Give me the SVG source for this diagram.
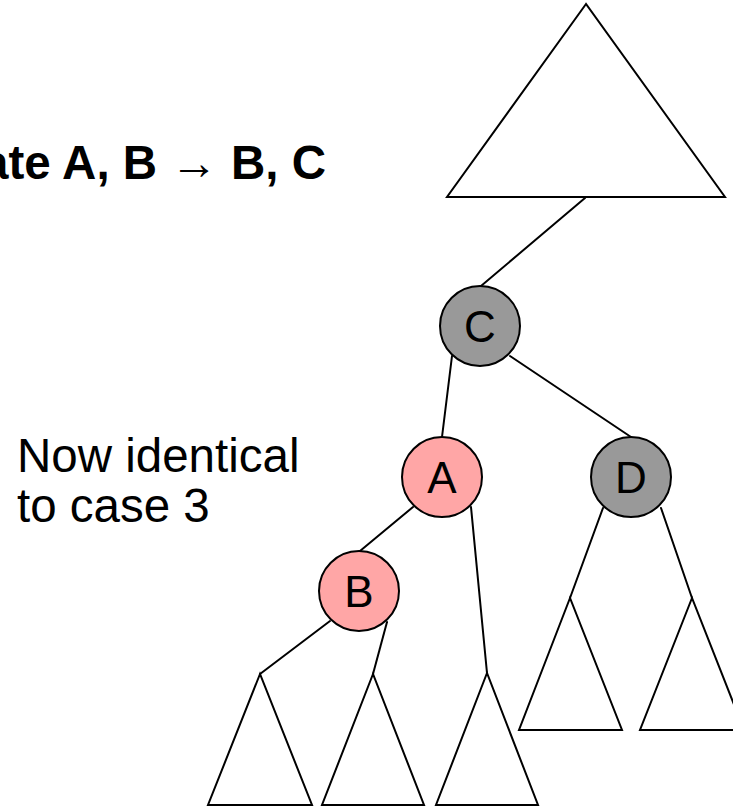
<svg xmlns="http://www.w3.org/2000/svg" width="733" height="807" viewBox="0 0 733 807">
<style>
.e{stroke:#000;stroke-width:2;fill:none;stroke-linecap:round}
.t{stroke:#000;stroke-width:2;fill:#fff;stroke-linejoin:miter}
.n{stroke:#000;stroke-width:2}
.g{fill:#999999}
.p{fill:#ffa6a6}
.lbl{font-family:"Liberation Sans",Arial,sans-serif;font-size:44px;text-anchor:middle;fill:#000}
.txt{font-family:"Liberation Sans",Arial,sans-serif;font-size:47.5px;fill:#000}
</style>
<rect width="733" height="807" fill="#fff"/>
<g id="connectors">
<line class="e" x1="585" y1="198" x2="481" y2="286"/>
<line class="e" x1="452" y1="356" x2="442" y2="437"/>
<line class="e" x1="510" y1="356" x2="631" y2="437"/>
<line class="e" x1="413" y1="507" x2="360" y2="551"/>
<line class="e" x1="471" y1="507" x2="487" y2="673"/>
<line class="e" x1="330" y1="621" x2="260" y2="674"/>
<line class="e" x1="387" y1="622" x2="373" y2="674"/>
<line class="e" x1="603" y1="508" x2="570" y2="598"/>
<line class="e" x1="661" y1="508" x2="692" y2="598"/>
</g>
<g id="top-subtree"><polygon class="t" points="586,4 447,197 725,197"/></g>
<g id="subtree-B-left"><polygon class="t" points="260,674 208,805 312,805"/></g>
<g id="subtree-B-right"><polygon class="t" points="373,674 322,805 424,805"/></g>
<g id="subtree-A-right"><polygon class="t" points="487,673 436,805 538,805"/></g>
<g id="subtree-D-left"><polygon class="t" points="570,598 519,730 622,730"/></g>
<g id="subtree-D-right"><polygon class="t" points="692,598 640,730 744,730"/></g>
<g id="node-C"><circle class="n g" cx="480" cy="326" r="40"/><text class="lbl" x="480" y="342">C</text></g>
<g id="node-A"><circle class="n p" cx="442" cy="477" r="40"/><text class="lbl" x="442" y="493">A</text></g>
<g id="node-D"><circle class="n g" cx="631" cy="477" r="40"/><text class="lbl" x="631" y="493">D</text></g>
<g id="node-B"><circle class="n p" cx="359" cy="591" r="40"/><text class="lbl" x="359" y="607">B</text></g>
<g id="title"><text class="txt" x="326" y="179" text-anchor="end" font-weight="bold" font-size="48">ate A, B → B, C</text></g>
<g id="note"><text class="txt" x="17" y="472">Now identical</text><text class="txt" x="17" y="522">to case 3</text></g>
</svg>
